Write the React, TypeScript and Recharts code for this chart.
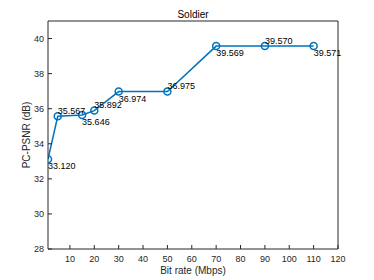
import { LineChart, Line, XAxis, YAxis, LabelList } from 'recharts';

const bitRates = [1, 5, 15, 20, 30, 50, 70, 90, 110];
const psnr = [33.12, 35.567, 35.646, 35.892, 36.974, 36.975, 39.569, 39.57, 39.571];
const xTicks = [10, 20, 30, 40, 50, 60, 70, 80, 90, 100, 110, 120];
const yTicks = [28, 30, 32, 34, 36, 38, 40];

const data = bitRates.map((b, i) => ({ rate: b, psnr: psnr[i] }));

const font = 'Liberation Sans, Arial, Helvetica, sans-serif';
const ink = '#262626';

// alternate the value labels below / above the points, like the original
function PointLabel(props: any) {
  const x = props.x ?? props.viewBox?.x;
  const y = props.y ?? props.viewBox?.y;
  const below = props.index % 2 === 0;
  return (
    <text
      x={x}
      y={below ? y + 7 : y - 5.5}
      dy="0.35em"
      fontSize={9}
      fontFamily={font}
      fill="#000"
      textAnchor="start"
    >
      {Number(props.value).toFixed(3)}
    </text>
  );
}

export default function App() {
  const tickStyle = { fontSize: 9, fontFamily: font, fill: ink };
  return (
    <div style={{ position: 'absolute', left: 0, top: 0, background: '#fff' }}>
      <LineChart width={374} height={280} data={data} margin={{ top: 0, right: 0, left: 8, bottom: 0 }}>
        <XAxis
          xAxisId="b"
          dataKey="rate"
          type="number"
          domain={[1, 120]}
          ticks={xTicks}
          allowDataOverflow
          height={31}
          stroke={ink}
          tickSize={-4}
          tickMargin={11}
          tick={tickStyle}
          label={{ value: 'Bit rate (Mbps)', position: 'insideBottom', offset: 6, fontSize: 10, fontFamily: font, fill: ink }}
        />
        <XAxis
          xAxisId="t"
          orientation="top"
          dataKey="rate"
          type="number"
          domain={[1, 120]}
          ticks={xTicks}
          allowDataOverflow
          height={21}
          stroke={ink}
          tickSize={-4}
          tick={false}
          label={{ value: 'Soldier', position: 'insideBottom', offset: 3.5, fontSize: 10, fontFamily: font, fill: '#000' }}
        />
        <YAxis
          yAxisId="l"
          type="number"
          domain={[28, 41]}
          ticks={yTicks}
          allowDataOverflow
          width={40}
          stroke={ink}
          tickSize={-4}
          tickMargin={8}
          tick={tickStyle}
          label={{ value: 'PC-PSNR (dB)', angle: -90, position: 'center', dx: -1.5, fontSize: 10, fontFamily: font, fill: ink }}
        />
        <YAxis
          yAxisId="r"
          orientation="right"
          type="number"
          domain={[28, 41]}
          ticks={yTicks}
          allowDataOverflow
          width={36}
          stroke={ink}
          tickSize={-4}
          tick={false}
        />
        <Line
          xAxisId="b"
          yAxisId="l"
          dataKey="psnr"
          type="linear"
          stroke="#0072BD"
          strokeWidth={1.5}
          dot={{ r: 3.5, fill: 'none', stroke: '#0072BD', strokeWidth: 1.5 }}
          isAnimationActive={false}
        >
          <LabelList dataKey="psnr" content={<PointLabel />} />
        </Line>
      </LineChart>
    </div>
  );
}
